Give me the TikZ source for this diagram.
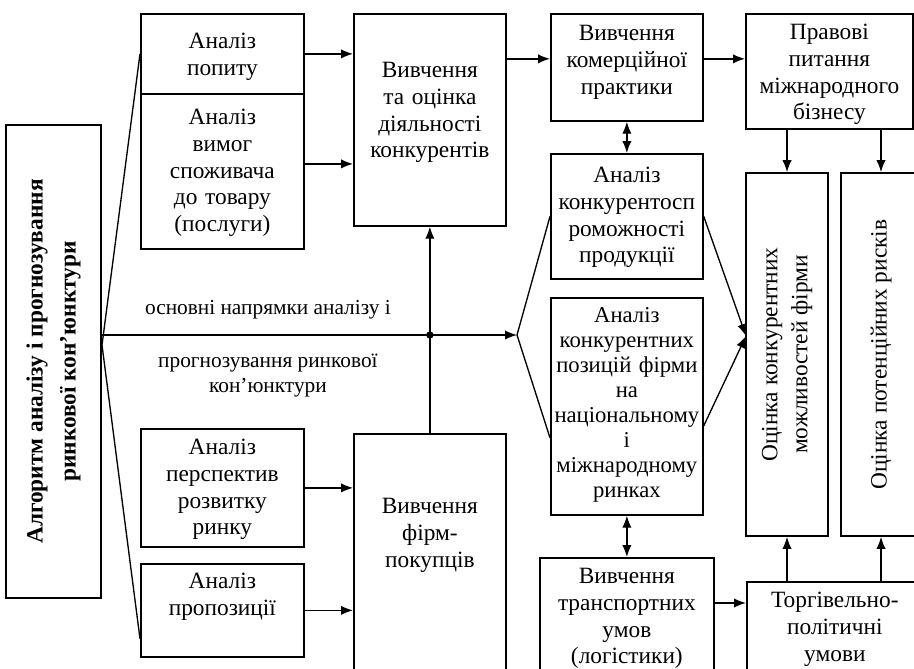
\documentclass[tikz,border=0pt]{standalone}
\usepackage{fontspec}
\setmainfont{Liberation Serif}
\usetikzlibrary{arrows.meta}
\tikzset{
x=0.75pt, y=-0.75pt, % one unit = one pixel of the scan
>={Latex[length=9pt,width=7pt]}, % solid arrow heads
box/.style={draw, line width=1.3pt, inner sep=0pt, align=center, anchor=north west, font=\fontsize{17.5}{20}\selectfont}, % placed by its top left corner
vbox/.style={draw, line width=1.3pt, rotate=90, align=center, font=\fontsize{17.5}{22.5}\selectfont}, % text read from bottom to top
link/.style={line width=1pt},
lbl/.style={align=center, font=\fontsize{16}{19}\selectfont},
dot/.style={circle, fill, inner sep=0pt, minimum size=5.5pt},
}
\begin{document}
\begin{tikzpicture}
\useasboundingbox (0,0) rectangle (914,668);

% left column
\node[vbox, font=\bfseries\fontsize{17.5}{24.75}\selectfont, minimum width=354.75pt, minimum height=71.25pt] (alg) at (53.5,361.5) {Алгоритм аналізу і прогнозування\\ ринкової кон’юнктури};
\node[box, text width=122.25pt, text height=26.25pt, text depth=33.75pt] (popyt) at (140,13) {Аналіз\\ попиту};
\node[box, text width=122.25pt, text height=23.25pt, text depth=93pt] (vymog) at (140,93) {Аналіз\\ вимог\\ споживача\\ до товару\\ (послуги)};
\node[box, text width=122.25pt, text height=19.5pt, text depth=69pt] (persp) at (140,428) {Аналіз\\ перспектив\\ розвитку\\ ринку};
\node[box, text width=122.25pt, text height=18.75pt, text depth=51pt] (propoz) at (140,563) {Аналіз\\ пропозиції};

% middle column
\node[box, text width=114pt, text height=48pt, text depth=111pt] (konk) at (353,13) {Вивчення\\ та оцінка\\ діяльності\\ конкурентів};
\node[box, text width=114pt, text height=60pt, text depth=140.25pt] (vfp) at (353,433) {Вивчення\\ фірм-\\ покупців};

\node[box, text width=114pt, text height=20.25pt, text depth=60pt] (komerc) at (550,13) {Вивчення\\ комерційної\\ практики};
\node[box, text width=114pt, text height=21.75pt, text depth=72pt] (konkspr) at (550,153) {Аналіз\\ конкурентосп\\ роможності\\ продукції};
\node[box, font=\fontsize{17}{18.75}\selectfont, text width=114pt, text height=18.75pt, text depth=144pt] (pozyc) at (550,297) {Аналіз\\ конкурентних\\ позицій фірми\\ на\\ національному\\ і\\ міжнародному\\ ринках};
\node[box, text width=130.5pt, text height=19.5pt, text depth=87.75pt] (transp) at (539,557) {Вивчення\\ транспортних\\ умов\\ (логістики)};

% right column
\node[box, text width=125.25pt, text height=19.5pt, text depth=66.75pt] (pravo) at (745,13) {Правові\\ питання\\ міжнародного\\ бізнесу};
\node[vbox, minimum width=272.25pt, minimum height=61.5pt] (ocin1) at (787,354.5) {Оцінка конкурентних\\ можливостей фірми};
\node[vbox, minimum width=272.25pt, minimum height=60pt] (ocin2) at (881,354.5) {Оцінка потенційних рисків};
\node[box, text width=132pt, text height=19.5pt, text depth=69.75pt] (torg) at (746,581) {Торгівельно-\\ політичні\\ умови};

\coordinate (fan) at (102,345);
\coordinate (hub) at (517,335);
\coordinate (join) at (746,336);
\coordinate (v1) at ([yshift=5.6pt]vymog.east);
\coordinate (k1) at ([yshift=6.4pt]komerc.west);
\coordinate (t1) at ([yshift=-34.5pt]transp.north east);

% fan from the left box
\draw[link] (popyt.west) -- (fan) -- ([yshift=14.25pt]propoz.south west);
% rotated node: south is its right side
\draw[link, ->] (hub -| alg.south) -- node[lbl, pos=0.4, above=8pt] {основні напрямки аналізу і} node[lbl, pos=0.4, below=10.5pt] {прогнозування ринкової\\ кон’юнктури} (hub);
\draw[link] (konkspr.west) -- (hub) -- ([yshift=-23.6pt]pozyc.west);
\draw[link, ->] (konkspr.east) -- (join);
\draw[link, ->] ([yshift=-14.6pt]pozyc.east) -- (join);

\draw[link, ->] (popyt.east) -- (popyt.east -| konk.west);
\draw[link, ->] (v1) -- (v1 -| konk.west);
\draw[link, ->] (persp.east) -- (persp.east -| vfp.west);
\draw[link, ->] (propoz.east) -- (propoz.east -| vfp.west);
\draw[link, ->] (vfp) -- (konk);
\node[dot] (split) at (vfp |- hub) {};

\draw[link, ->] (k1 -| konk.east) -- (k1);
\draw[link, ->] (k1 -| komerc.east) -- (k1 -| pravo.west);
\draw[link, <->] (komerc) -- (konkspr);
\draw[link, <->] (pozyc) -- (transp);
\draw[link, ->] (t1) -- (t1 -| torg.west);

\draw[link, ->] (ocin1 |- pravo.south) -- (ocin1);
\draw[link, ->] (ocin2 |- pravo.south) -- (ocin2);
\draw[link, ->] (ocin1 |- torg.north) -- (ocin1);
\draw[link, ->] (ocin2 |- torg.north) -- (ocin2);
\end{tikzpicture}
\end{document}
